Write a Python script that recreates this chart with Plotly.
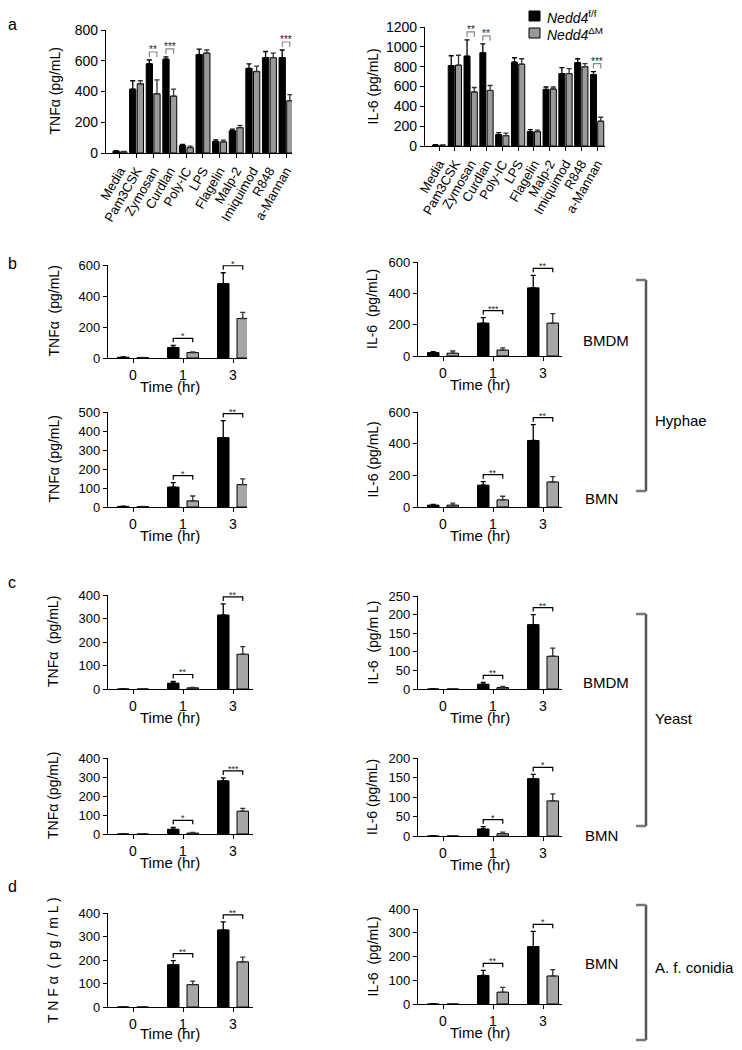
import plotly.graph_objects as go

# page (window) size and the browser's default body margin
PAGE_W, PAGE_H = 742, 1050
OFF = 8
W, H = PAGE_W - 2 * OFF, PAGE_H - 2 * OFF
FONT = "Liberation Sans, Arial, sans-serif"

# ---------------- data ----------------
a_cats = ["Media", "Pam3CSK", "Zymosan", "Curdlan", "Poly-IC", "LPS", "Flagelin",
          "Malp-2", "Imiquimod", "R848", "a-Mannan"]
a_tnf_ff = [12, 415, 580, 610, 50, 640, 75, 145, 550, 620, 620]
a_tnf_ff_err = [4, 55, 25, 15, 6, 35, 10, 10, 30, 40, 50]
a_tnf_dm = [8, 450, 385, 370, 35, 650, 72, 165, 530, 620, 340]
a_tnf_dm_err = [3, 20, 90, 45, 10, 20, 12, 15, 35, 30, 40]
a_tnf_sig = ["", "", "**", "***", "", "", "", "", "", "", "***"]

a_il6_ff = [10, 810, 905, 940, 115, 845, 145, 570, 730, 840, 720]
a_il6_ff_err = [4, 100, 165, 90, 20, 45, 20, 25, 60, 40, 30]
a_il6_dm = [8, 815, 545, 560, 105, 825, 145, 575, 730, 800, 250]
a_il6_dm_err = [3, 100, 45, 50, 25, 55, 15, 20, 50, 30, 40]
a_il6_sig = ["", "", "**", "**", "", "", "", "", "", "", "***"]

time_cats = ["0", "1", "3"]

b_bmdm_tnf_ff = [5, 68, 480]
b_bmdm_tnf_ff_err = [2, 14, 70]
b_bmdm_tnf_dm = [3, 35, 255]
b_bmdm_tnf_dm_err = [1, 5, 40]
b_bmdm_tnf_sig = ["", "*", "*"]

b_bmdm_il6_ff = [22, 210, 435]
b_bmdm_il6_ff_err = [5, 35, 80]
b_bmdm_il6_dm = [18, 38, 210]
b_bmdm_il6_dm_err = [14, 14, 60]
b_bmdm_il6_sig = ["", "***", "**"]

b_bmn_tnf_ff = [3, 105, 365]
b_bmn_tnf_ff_err = [2, 23, 90]
b_bmn_tnf_dm = [2, 32, 118]
b_bmn_tnf_dm_err = [1, 26, 30]
b_bmn_tnf_sig = ["", "*", "**"]

b_bmn_il6_ff = [12, 138, 420]
b_bmn_il6_ff_err = [5, 22, 100]
b_bmn_il6_dm = [12, 45, 158]
b_bmn_il6_dm_err = [13, 23, 34]
b_bmn_il6_sig = ["", "**", "**"]

c_bmdm_tnf_ff = [0, 25, 315]
c_bmdm_tnf_ff_err = [0, 7, 47]
c_bmdm_tnf_dm = [0, 5, 148]
c_bmdm_tnf_dm_err = [0, 2, 32]
c_bmdm_tnf_sig = ["", "**", "**"]

c_bmdm_il6_ff = [0, 13, 173]
c_bmdm_il6_ff_err = [0, 5, 27]
c_bmdm_il6_dm = [0, 4, 88]
c_bmdm_il6_dm_err = [0, 3, 22]
c_bmdm_il6_sig = ["", "**", "**"]

c_bmn_tnf_ff = [0, 25, 280]
c_bmn_tnf_ff_err = [0, 10, 15]
c_bmn_tnf_dm = [0, 5, 120]
c_bmn_tnf_dm_err = [0, 3, 15]
c_bmn_tnf_sig = ["", "*", "***"]

c_bmn_il6_ff = [0, 18, 147]
c_bmn_il6_ff_err = [0, 6, 11]
c_bmn_il6_dm = [0, 6, 90]
c_bmn_il6_dm_err = [0, 4, 18]
c_bmn_il6_sig = ["", "*", "*"]

d_bmn_tnf_ff = [0, 180, 328]
d_bmn_tnf_ff_err = [0, 17, 34]
d_bmn_tnf_dm = [0, 95, 192]
d_bmn_tnf_dm_err = [0, 15, 20]
d_bmn_tnf_sig = ["", "**", "**"]

d_bmn_il6_ff = [0, 120, 242]
d_bmn_il6_ff_err = [0, 22, 64]
d_bmn_il6_dm = [0, 50, 118]
d_bmn_il6_dm_err = [0, 20, 27]
d_bmn_il6_sig = ["", "**", "*"]

legend_ff = "<i>Nedd4</i><sup>f/f</sup>"
legend_dm = "<i>Nedd4</i><sup>ΔM</sup>"


# ---------------- layout helpers (page pixels -> paper fraction) ----------------
def px_x(x):
    return (x - OFF) / W


def px_y(y):
    return 1 - (y - OFF) / H


panels = [
    dict(cats=a_cats, ff=a_tnf_ff, ffe=a_tnf_ff_err, dm=a_tnf_dm, dme=a_tnf_dm_err, sig=a_tnf_sig,
         xd=(106, 292), yd=(30, 153), xr=[-0.84, 10.36], ymax=800, dt=200,
         yt="TNFα (pg/mL)", tx=55, kind="a"),
    dict(cats=a_cats, ff=a_il6_ff, ffe=a_il6_ff_err, dm=a_il6_dm, dme=a_il6_dm_err, sig=a_il6_sig,
         xd=(425, 605), yd=(27, 146), xr=[-0.89, 10.5], ymax=1200, dt=200,
         yt="IL-6 (pg/mL)", tx=372, kind="a"),
    dict(cats=time_cats, ff=b_bmdm_tnf_ff, ffe=b_bmdm_tnf_ff_err, dm=b_bmdm_tnf_dm, dme=b_bmdm_tnf_dm_err,
         sig=b_bmdm_tnf_sig, xd=(108, 247), yd=(265, 358), xr=[-0.5, 2.28], ymax=600, dt=200,
         yt="TNFα  (pg/mL)", tx=53, kind="t"),
    dict(cats=time_cats, ff=b_bmdm_il6_ff, ffe=b_bmdm_il6_ff_err, dm=b_bmdm_il6_dm, dme=b_bmdm_il6_dm_err,
         sig=b_bmdm_il6_sig, xd=(418, 562), yd=(262, 356), xr=[-0.5, 2.38], ymax=600, dt=200,
         yt="IL-6  (pg/mL)", tx=372, kind="t"),
    dict(cats=time_cats, ff=b_bmn_tnf_ff, ffe=b_bmn_tnf_ff_err, dm=b_bmn_tnf_dm, dme=b_bmn_tnf_dm_err,
         sig=b_bmn_tnf_sig, xd=(108, 247), yd=(412, 507), xr=[-0.5, 2.28], ymax=500, dt=100,
         yt="TNFα (pg/mL)", tx=53, kind="t"),
    dict(cats=time_cats, ff=b_bmn_il6_ff, ffe=b_bmn_il6_ff_err, dm=b_bmn_il6_dm, dme=b_bmn_il6_dm_err,
         sig=b_bmn_il6_sig, xd=(418, 562), yd=(412, 507), xr=[-0.5, 2.38], ymax=600, dt=200,
         yt="IL-6 (pg/mL)", tx=372, kind="t"),
    dict(cats=time_cats, ff=c_bmdm_tnf_ff, ffe=c_bmdm_tnf_ff_err, dm=c_bmdm_tnf_dm, dme=c_bmdm_tnf_dm_err,
         sig=c_bmdm_tnf_sig, xd=(108, 253), yd=(595, 689), xr=[-0.5, 2.4], ymax=400, dt=100,
         yt="TNFα  (pg/mL)", tx=53, kind="t"),
    dict(cats=time_cats, ff=c_bmdm_il6_ff, ffe=c_bmdm_il6_ff_err, dm=c_bmdm_il6_dm, dme=c_bmdm_il6_dm_err,
         sig=c_bmdm_il6_sig, xd=(418, 562), yd=(596, 689), xr=[-0.5, 2.38], ymax=250, dt=50,
         yt="IL-6  (pg/m L)", tx=372, kind="t"),
    dict(cats=time_cats, ff=c_bmn_tnf_ff, ffe=c_bmn_tnf_ff_err, dm=c_bmn_tnf_dm, dme=c_bmn_tnf_dm_err,
         sig=c_bmn_tnf_sig, xd=(108, 253), yd=(758, 834), xr=[-0.5, 2.4], ymax=400, dt=100,
         yt="TNFα (pg/mL)", tx=53, kind="t"),
    dict(cats=time_cats, ff=c_bmn_il6_ff, ffe=c_bmn_il6_ff_err, dm=c_bmn_il6_dm, dme=c_bmn_il6_dm_err,
         sig=c_bmn_il6_sig, xd=(418, 562), yd=(758, 836), xr=[-0.5, 2.38], ymax=200, dt=50,
         yt="IL-6 (pg/mL)", tx=372, kind="t"),
    dict(cats=time_cats, ff=d_bmn_tnf_ff, ffe=d_bmn_tnf_ff_err, dm=d_bmn_tnf_dm, dme=d_bmn_tnf_dm_err,
         sig=d_bmn_tnf_sig, xd=(108, 253), yd=(913, 1007), xr=[-0.5, 2.4], ymax=400, dt=100,
         yt="T N F α  ( p g / m L )", tx=53, kind="t"),
    dict(cats=time_cats, ff=d_bmn_il6_ff, ffe=d_bmn_il6_ff_err, dm=d_bmn_il6_dm, dme=d_bmn_il6_dm_err,
         sig=d_bmn_il6_sig, xd=(418, 562), yd=(909, 1004), xr=[-0.5, 2.38], ymax=400, dt=100,
         yt="IL-6  (pg/mL)", tx=372, kind="t"),
]

fig = go.Figure()
annotations = []
shapes = []
layout_axes = {}

for i, p in enumerate(panels, start=1):
    xa = "x" if i == 1 else f"x{i}"
    ya = "y" if i == 1 else f"y{i}"
    xkey = "xaxis" if i == 1 else f"xaxis{i}"
    ykey = "yaxis" if i == 1 else f"yaxis{i}"
    n = len(p["cats"])
    idx = list(range(n))
    is_a = p["kind"] == "a"
    if is_a:
        bw, off_b, off_g = 0.38, -0.42, 0.04
    else:
        bw, off_b, off_g = 0.23, -0.31, 0.08
    cb = off_b + bw / 2
    cg = off_g + bw / 2

    fig.add_trace(go.Bar(
        x=idx, y=p["ff"], width=bw, offset=off_b, xaxis=xa, yaxis=ya,
        marker=dict(color="#000000", line=dict(color="#000000", width=1)),
        error_y=dict(type="data", array=p["ffe"], arrayminus=[0] * n, symmetric=False,
                     color="#000000", thickness=1.3, width=2.5),
        name=legend_ff, showlegend=False, hoverinfo="skip"))
    fig.add_trace(go.Bar(
        x=idx, y=p["dm"], width=bw, offset=off_g, xaxis=xa, yaxis=ya,
        marker=dict(color="#9a9a9a" if is_a else "#a6a6a6", line=dict(color="#000000", width=1)),
        error_y=dict(type="data", array=p["dme"], arrayminus=[0] * n, symmetric=False,
                     color="#333333", thickness=1.3, width=2.5),
        name=legend_dm, showlegend=False, hoverinfo="skip"))

    ytop, ybot = p["yd"]
    hpx = ybot - ytop
    unit = p["ymax"] / hpx  # data units per pixel
    pad = (8 if is_a else 7) * unit
    leg = (5 if is_a else 4) * unit
    bcol = "#8a8a8a" if is_a else "#000000"
    for k, s in enumerate(p["sig"]):
        if not s:
            continue
        top = max(p["ff"][k] + p["ffe"][k], p["dm"][k] + p["dme"][k])
        yb = top + pad
        fig.add_trace(go.Scatter(
            x=[k + cb, k + cb, k + cg, k + cg], y=[yb - leg, yb, yb, yb - leg],
            mode="lines", line=dict(color=bcol, width=1.2), xaxis=xa, yaxis=ya,
            showlegend=False, hoverinfo="skip"))
        annotations.append(dict(
            x=k, y=yb, xref=xa, yref=ya, text=s, showarrow=False,
            yanchor="bottom", yshift=-5,
            font=dict(size=10 if is_a else 9, color="#222222", family=FONT)))

    tick_font = dict(size=14 if is_a else 13, color="#000000", family=FONT)
    layout_axes[xkey] = dict(
        domain=[px_x(p["xd"][0]), px_x(p["xd"][1])], anchor=ya, range=p["xr"], autorange=False,
        tickmode="array", tickvals=idx, ticktext=p["cats"], automargin=False,
        tickangle=-60 if is_a else 0,
        tickfont=dict(size=13 if is_a else 14, color="#000000", family=FONT),
        showline=True, linecolor="#000000", linewidth=1.3, ticks="outside", ticklen=4,
        tickcolor="#000000", showgrid=False, zeroline=False, fixedrange=True)
    layout_axes[ykey] = dict(
        domain=[px_y(ybot), px_y(ytop)], anchor=xa, range=[0, p["ymax"]], autorange=False,
        tickmode="linear", tick0=0, dtick=p["dt"], tickfont=tick_font, automargin=False,
        showline=True, linecolor="#000000", linewidth=1.3, ticks="outside", ticklen=4,
        tickcolor="#000000", showgrid=False, zeroline=False, fixedrange=True)

    annotations.append(dict(
        x=px_x(p["tx"]), y=px_y((ytop + ybot) / 2), xref="paper", yref="paper",
        text=p["yt"], textangle=-90, showarrow=False, xanchor="center", yanchor="middle",
        font=dict(size=14, color="#000000", family=FONT)))
    if not is_a:
        t_y = min(ybot + 28, PAGE_H - OFF - 9)
        annotations.append(dict(
            x=px_x(p["xd"][0] + 62), y=px_y(t_y), xref="paper", yref="paper",
            text="Time (hr)", showarrow=False, xanchor="center", yanchor="middle",
            font=dict(size=15, color="#000000", family=FONT)))

# legend (drawn by hand to match the reference's compact layout)
for txt, col, (sy0, sy1) in [(legend_ff, "#000000", (11, 21)), (legend_dm, "#9a9a9a", (28, 38))]:
    shapes.append(dict(type="rect", xref="paper", yref="paper", x0=px_x(529), x1=px_x(540),
                       y0=px_y(sy1), y1=px_y(sy0), fillcolor=col,
                       line=dict(color="#000000", width=1)))
    annotations.append(dict(x=px_x(545), y=px_y((sy0 + sy1) / 2 + 1), xref="paper", yref="paper",
                            text=txt, showarrow=False, xanchor="left", yanchor="middle",
                            font=dict(size=14, color="#000000", family=FONT)))

# panel letters
for letter, (lx, ly) in {"a": (12, 25), "b": (12, 264), "c": (12, 582), "d": (12, 886)}.items():
    annotations.append(dict(x=px_x(lx), y=px_y(ly), xref="paper", yref="paper", text=letter,
                            showarrow=False, xanchor="center", yanchor="middle",
                            font=dict(size=16, color="#000000", family=FONT)))

# cell-type labels
for txt, (lx, ly) in [("BMDM", (581, 340)), ("BMN", (583, 498)), ("BMDM", (581, 682)),
                      ("BMN", (583, 835)), ("BMN", (583, 963))]:
    annotations.append(dict(x=px_x(lx), y=px_y(ly), xref="paper", yref="paper", text=txt,
                            showarrow=False, xanchor="left", yanchor="middle",
                            font=dict(size=15, color="#000000", family=FONT)))

# stimulus brackets
for txt, (y0, y1), ty in [("Hyphae", (280, 491), 420), ("Yeast", (614, 826), 718),
                          ("A. f. conidia", (905, 1040), 967)]:
    shapes.append(dict(type="line", xref="paper", yref="paper", x0=px_x(646), x1=px_x(646),
                       y0=px_y(y0), y1=px_y(y1), line=dict(color="#555555", width=2.5)))
    for yy in (y0, y1):
        shapes.append(dict(type="line", xref="paper", yref="paper", x0=px_x(636), x1=px_x(646),
                           y0=px_y(yy), y1=px_y(yy), line=dict(color="#777777", width=2.5)))
    annotations.append(dict(x=px_x(653), y=px_y(ty), xref="paper", yref="paper", text=txt,
                            showarrow=False, xanchor="left", yanchor="middle",
                            font=dict(size=15, color="#000000", family=FONT)))

fig.update_layout(
    template="none",
    width=W, height=H, margin=dict(l=0, r=0, t=0, b=0, pad=0, autoexpand=False),
    paper_bgcolor="#ffffff", plot_bgcolor="#ffffff",
    barmode="overlay", font=dict(family=FONT, color="#000000"),
    showlegend=False,
    annotations=annotations, shapes=shapes,
    **layout_axes)

fig.write_html("out.html")
